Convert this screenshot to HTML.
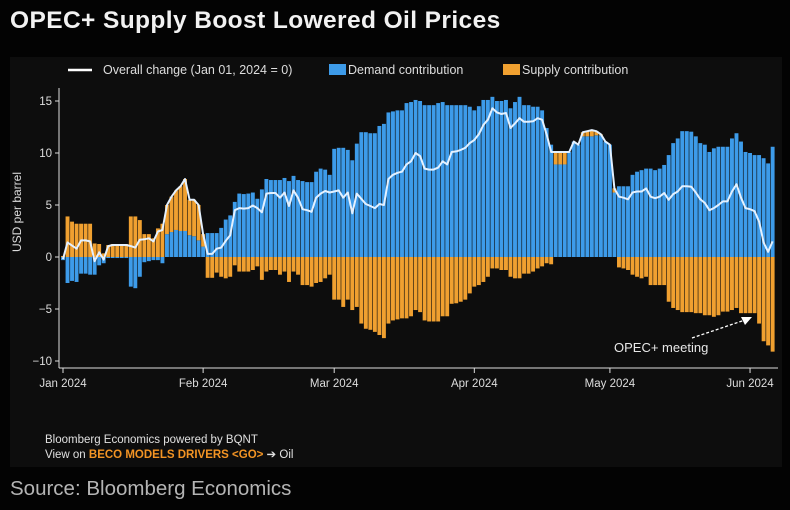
<!DOCTYPE html>
<html><head><meta charset="utf-8"><style>
body{margin:0;background:#030303;}
#wrap{position:relative;width:790px;height:510px;background:#030303;font-family:"Liberation Sans",sans-serif;overflow:hidden}
#title{position:absolute;left:10px;top:7px;font-size:24.5px;font-weight:bold;color:#f2f2f2;letter-spacing:0.4px}
#panel{position:absolute;left:10px;top:57px;width:772px;height:410px;background:#0d0d0d}
#src{position:absolute;left:10px;top:477px;font-size:20.5px;color:#b4b4b4}
svg text{font-family:"Liberation Sans",sans-serif}
</style></head><body>
<div id="wrap">
<div id="title">OPEC+ Supply Boost Lowered Oil Prices</div>
<div id="panel"></div>
<svg id="chart" width="790" height="510" style="position:absolute;left:0;top:0">
 <g>
  <line x1="68" y1="70" x2="92" y2="70" stroke="#fff" stroke-width="2.5"/>
  <text x="103" y="74" font-size="12.5" fill="#ddd">Overall change (Jan 01, 2024 = 0)</text>
  <rect x="329" y="64" width="17" height="11" fill="#3d9be9"/>
  <text x="348" y="74" font-size="12.5" fill="#ddd">Demand contribution</text>
  <rect x="503" y="64" width="17" height="11" fill="#f0a030"/>
  <text x="522" y="74" font-size="12.5" fill="#ddd">Supply contribution</text>
 </g>
 <text transform="translate(21,212) rotate(-90)" text-anchor="middle" font-size="12" fill="#ddd">USD per barrel</text>
 <g id="bars"></g>
 <g id="axes"></g>
 <path id="line" fill="none" stroke="#e4f1ff" stroke-width="2" stroke-linejoin="round"/>
 <g>
  <text x="614" y="352" font-size="13" fill="#e8e8e8">OPEC+ meeting</text>
  <line x1="692" y1="338" x2="745" y2="320" stroke="#fff" stroke-width="1.3" stroke-dasharray="3,2"/>
  <polygon points="752,317 741,317 745,325" fill="#fff"/>
 </g>
 <text x="45" y="443" font-size="11.5" fill="#e0e0e0">Bloomberg Economics powered by BQNT</text>
 <text x="45" y="458" font-size="11.5" fill="#e0e0e0">View on <tspan fill="#f39424" font-weight="bold">BECO MODELS DRIVERS &lt;GO&gt;</tspan> ➔ Oil</text>
</svg>
<div id="src">Source: Bloomberg Economics</div>
</div>
<script>
const yTicks=[15,10,5,0,-5,-10];
const xTickLabels=["Jan 2024","Feb 2024","Mar 2024","Apr 2024","May 2024","Jun 2024"];
const xTickDays=[0,31,60,91,121,152];
const demand=[-0.3,-2.5,-2.3,-2.4,-1.6,-1.6,-1.7,-1.7,-0.8,-0.6,
-0.1,-0.1,-0.1,-0.1,-0.1,-2.85,-3.0,-1.9,-0.5,-0.4,
-0.3,-0.3,-0.6,2.2,2.4,2.6,2.5,2.5,2.1,2.0,
1.6,1.0,2.3,2.3,2.3,2.8,3.6,4.0,5.3,6.1,
6.05,6.1,6.2,5.6,6.5,7.5,7.4,7.4,7.4,7.6,
7.3,7.8,7.4,7.3,7.2,7.2,8.2,8.5,8.4,7.9,
10.4,10.5,10.5,10.3,9.3,10.9,12.0,12.0,11.9,11.9,
12.6,12.8,13.9,14.0,14.1,14.1,14.8,14.9,15.1,15.0,
14.6,14.6,14.6,14.8,14.9,14.6,14.6,14.6,14.6,14.6,
14.45,14.1,14.5,15.1,15.1,15.4,15.0,15.0,15.1,14.3,
14.9,15.4,14.6,14.6,14.45,14.45,14.1,12.4,10.8,8.9,
8.9,8.9,10.1,11.1,10.8,11.6,11.6,11.6,11.7,11.7,
11.1,10.8,6.2,6.8,6.8,6.8,7.9,8.2,8.35,8.5,
8.5,8.35,8.5,8.85,9.8,10.95,11.4,12.1,12.1,12.05,
11.6,10.95,10.8,10.1,10.45,10.6,10.6,10.6,11.4,11.9,
11.1,10.1,10.0,9.8,9.8,9.5,9.0,10.6];
const supply=[0.1,3.9,3.4,3.2,3.2,3.2,3.2,1.3,1.25,0.35,
1.15,1.25,1.25,1.25,1.25,3.9,3.9,3.55,2.2,2.2,
1.8,2.75,3.2,2.8,3.4,3.8,4.3,5.0,3.4,3.5,
3.4,1.2,-2.0,-2.0,-1.5,-1.9,-2.05,-1.9,-0.8,-1.4,
-1.4,-1.4,-1.25,-0.9,-2.2,-1.4,-1.25,-1.25,-1.7,-1.4,
-2.4,-1.4,-1.7,-2.7,-2.7,-2.85,-2.5,-2.4,-2.05,-1.7,
-4.1,-4.1,-4.8,-4.1,-5.1,-4.8,-6.4,-6.9,-7.0,-7.2,
-7.5,-7.8,-6.4,-6.1,-6.0,-5.9,-5.9,-5.7,-5.1,-5.3,
-6.1,-6.2,-6.2,-6.2,-5.7,-5.7,-4.5,-4.45,-4.3,-4.1,
-3.5,-2.85,-2.7,-2.4,-1.9,-1.1,-1.1,-1.25,-1.25,-1.9,
-2.05,-2.05,-1.6,-1.6,-1.4,-1.1,-0.9,-0.6,-0.7,1.2,
1.2,1.2,0,0,0,0.4,0.5,0.6,0.4,0.1,
0,0,0.4,-1.0,-1.1,-1.25,-1.7,-1.9,-2.05,-1.9,
-2.7,-2.7,-2.7,-2.7,-4.3,-4.9,-5.1,-5.3,-5.3,-5.3,
-5.4,-5.4,-5.6,-5.6,-5.75,-5.6,-5.25,-5.25,-5.1,-4.9,
-5.4,-5.4,-5.4,-5.4,-6.4,-8.1,-8.5,-9.1];

const NS='http://www.w3.org/2000/svg';
const X0=63, DX=4.52, Y0=257, KY=10.4;
function xs(d){return X0+d*DX;}
function ys(v){return Y0-v*KY;}
const bars=document.getElementById('bars'), axes=document.getElementById('axes');
function mk(tag,attrs,parent){const e=document.createElementNS(NS,tag);for(const k in attrs)e.setAttribute(k,attrs[k]);parent.appendChild(e);return e;}
const bw=3.9;
demand.forEach((dv,i)=>{
  const sv=supply[i], cx=xs(i);
  const r1=mk('rect',{x:cx-bw/2,y:Math.min(ys(0),ys(dv)),width:bw,height:Math.abs(dv)*KY,fill:'#3d9be9'},bars);
  
  
  let base=(dv*sv>0)?dv:0;
  const r2=mk('rect',{x:cx-bw/2,y:Math.min(ys(base),ys(base+sv)),width:bw,height:Math.abs(sv)*KY,fill:'#f0a030'},bars);
  
  
});
let d='';
demand.forEach((dv,i)=>{d+=(i?'L':'M')+xs(i).toFixed(1)+','+ys(dv+supply[i]).toFixed(1);});
document.getElementById('line').setAttribute('d',d);
const ax=mk('line',{x1:59,y1:88,x2:59,y2:368,stroke:'#ddd','stroke-width':1},axes);


const bx=mk('line',{x1:59,y1:368,x2:778,y2:368,stroke:'#ddd','stroke-width':1},axes);


yTicks.forEach(t=>{
  const tk=mk('line',{x1:55,y1:ys(t),x2:59,y2:ys(t),stroke:'#ddd'},axes);
  
  
  const tx=mk('text',{x:52,y:ys(t)+4,'text-anchor':'end','font-size':11.5,fill:'#ddd'},axes);
  tx.textContent=(t<0?'\u2212':'')+Math.abs(t);
  
  
});
xTickLabels.forEach((l,i)=>{
  const x=xs(xTickDays[i]);
  const tk=mk('line',{x1:x,y1:368,x2:x,y2:373,stroke:'#ddd'},axes);
  
  
  const tx=mk('text',{x:x,y:387,'text-anchor':'middle','font-size':11.5,fill:'#ddd'},axes);
  tx.textContent=l;
  
  
});
</script>
</body></html>
